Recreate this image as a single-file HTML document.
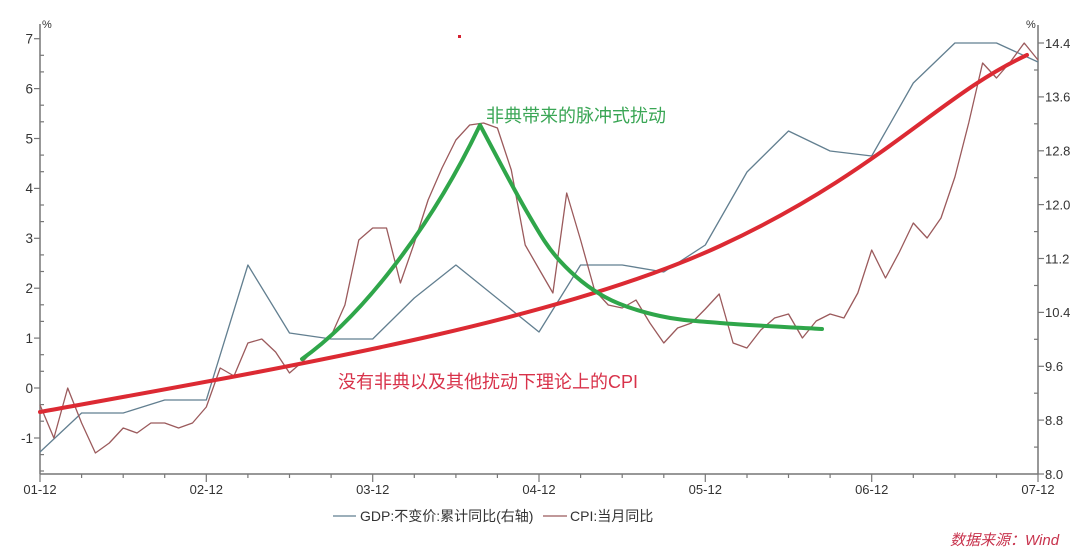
<!DOCTYPE html>
<html><head><meta charset="utf-8"><style>
html,body{margin:0;padding:0;background:#fff;}
svg{display:block;}
text{font-family:"Liberation Sans","Noto Sans CJK SC",sans-serif;}
</style></head><body>
<svg width="1080" height="551" viewBox="0 0 1080 551" xmlns="http://www.w3.org/2000/svg">
<rect width="1080" height="551" fill="#fff"/>
<!-- axes -->
<g stroke="#777" stroke-width="1.5" fill="none">
<line x1="40" y1="24" x2="40" y2="474"/>
<line x1="1038" y1="25" x2="1038" y2="474"/>
<line x1="40" y1="474" x2="1038" y2="474"/>
</g>
<g stroke="#777" stroke-width="1.2">
<line x1="34" y1="38.7" x2="40" y2="38.7"/><line x1="34" y1="88.6" x2="40" y2="88.6"/>
<line x1="34" y1="138.5" x2="40" y2="138.5"/><line x1="34" y1="188.4" x2="40" y2="188.4"/>
<line x1="34" y1="238.3" x2="40" y2="238.3"/><line x1="34" y1="288.2" x2="40" y2="288.2"/>
<line x1="34" y1="338.1" x2="40" y2="338.1"/><line x1="34" y1="388" x2="40" y2="388"/>
<line x1="34" y1="438" x2="40" y2="438"/>
<line x1="40" y1="55.3" x2="44" y2="55.3"/><line x1="40" y1="71.9" x2="44" y2="71.9"/>
<line x1="40" y1="105.2" x2="44" y2="105.2"/><line x1="40" y1="121.8" x2="44" y2="121.8"/>
<line x1="40" y1="155.1" x2="44" y2="155.1"/><line x1="40" y1="171.7" x2="44" y2="171.7"/>
<line x1="40" y1="205" x2="44" y2="205"/><line x1="40" y1="221.6" x2="44" y2="221.6"/>
<line x1="40" y1="254.9" x2="44" y2="254.9"/><line x1="40" y1="271.5" x2="44" y2="271.5"/>
<line x1="40" y1="304.8" x2="44" y2="304.8"/><line x1="40" y1="321.4" x2="44" y2="321.4"/>
<line x1="40" y1="354.7" x2="44" y2="354.7"/><line x1="40" y1="371.3" x2="44" y2="371.3"/>
<line x1="40" y1="404.6" x2="44" y2="404.6"/><line x1="40" y1="421.2" x2="44" y2="421.2"/>
<line x1="40" y1="454.6" x2="44" y2="454.6"/><line x1="40" y1="471" x2="44" y2="471"/>
<line x1="1038" y1="43" x2="1044" y2="43"/><line x1="1038" y1="96.9" x2="1044" y2="96.9"/>
<line x1="1038" y1="150.8" x2="1044" y2="150.8"/><line x1="1038" y1="204.6" x2="1044" y2="204.6"/>
<line x1="1038" y1="258.5" x2="1044" y2="258.5"/><line x1="1038" y1="312.4" x2="1044" y2="312.4"/>
<line x1="1038" y1="366.3" x2="1044" y2="366.3"/><line x1="1038" y1="420.1" x2="1044" y2="420.1"/>
<line x1="1038" y1="474" x2="1044" y2="474"/>
<line x1="1034" y1="70" x2="1038" y2="70"/><line x1="1034" y1="123.8" x2="1038" y2="123.8"/>
<line x1="1034" y1="177.7" x2="1038" y2="177.7"/><line x1="1034" y1="231.6" x2="1038" y2="231.6"/>
<line x1="1034" y1="285.5" x2="1038" y2="285.5"/><line x1="1034" y1="339.3" x2="1038" y2="339.3"/>
<line x1="1034" y1="393.2" x2="1038" y2="393.2"/><line x1="1034" y1="447.1" x2="1038" y2="447.1"/>
<line x1="40" y1="474" x2="40" y2="482"/><line x1="206.3" y1="474" x2="206.3" y2="482"/>
<line x1="372.7" y1="474" x2="372.7" y2="482"/><line x1="539" y1="474" x2="539" y2="482"/>
<line x1="705.3" y1="474" x2="705.3" y2="482"/><line x1="871.7" y1="474" x2="871.7" y2="482"/>
<line x1="1038" y1="474" x2="1038" y2="482"/>
<line x1="81.6" y1="474" x2="81.6" y2="478"/><line x1="123.2" y1="474" x2="123.2" y2="478"/><line x1="164.7" y1="474" x2="164.7" y2="478"/>
<line x1="247.9" y1="474" x2="247.9" y2="478"/><line x1="289.5" y1="474" x2="289.5" y2="478"/><line x1="331.1" y1="474" x2="331.1" y2="478"/>
<line x1="414.3" y1="474" x2="414.3" y2="478"/><line x1="455.9" y1="474" x2="455.9" y2="478"/><line x1="497.4" y1="474" x2="497.4" y2="478"/>
<line x1="580.6" y1="474" x2="580.6" y2="478"/><line x1="622.2" y1="474" x2="622.2" y2="478"/><line x1="663.8" y1="474" x2="663.8" y2="478"/>
<line x1="747" y1="474" x2="747" y2="478"/><line x1="788.5" y1="474" x2="788.5" y2="478"/><line x1="830.1" y1="474" x2="830.1" y2="478"/>
<line x1="913.3" y1="474" x2="913.3" y2="478"/><line x1="954.9" y1="474" x2="954.9" y2="478"/><line x1="996.5" y1="474" x2="996.5" y2="478"/>
</g>
<g font-size="13.5" fill="#333" text-anchor="end">
<text x="33" y="43.5">7</text><text x="33" y="93.4">6</text><text x="33" y="143.3">5</text>
<text x="33" y="193.2">4</text><text x="33" y="243.1">3</text><text x="33" y="293">2</text>
<text x="33" y="342.9">1</text><text x="33" y="392.8">0</text><text x="33" y="442.8">-1</text>
</g>
<g font-size="13" fill="#333">
<text x="1045" y="47.8">14.4</text><text x="1045" y="101.7">13.6</text><text x="1045" y="155.6">12.8</text>
<text x="1045" y="209.4">12.0</text><text x="1045" y="263.3">11.2</text><text x="1045" y="317.2">10.4</text>
<text x="1045" y="371.1">9.6</text><text x="1045" y="424.9">8.8</text><text x="1045" y="478.8">8.0</text>
</g>
<g font-size="13" fill="#333" text-anchor="middle">
<text x="40" y="494">01-12</text><text x="206.3" y="494">02-12</text><text x="372.7" y="494">03-12</text>
<text x="539" y="494">04-12</text><text x="705.3" y="494">05-12</text><text x="871.7" y="494">06-12</text>
<text x="1038" y="494">07-12</text>
</g>
<text x="42" y="28" font-size="11" fill="#333">%</text>
<text x="1026" y="28" font-size="11" fill="#333">%</text>
<polyline fill="none" stroke="#627f90" stroke-width="1.3" stroke-linejoin="round" points="40,452 81.6,413 123.2,413 164.7,400 206.3,400 247.9,265 289.5,333 331.1,339 372.7,339 414.3,298 455.9,265 539,332 580.6,265 622.2,265 663.8,272 705.3,245 747,172 788.5,131 830.1,151 871.7,156 913.3,83 954.9,43 996.5,43 1038,62"/>
<polyline fill="none" stroke="#9b5a5c" stroke-width="1.3" stroke-linejoin="round" points="40,405 53.9,438 67.7,388 81.6,423 95.4,453 109.3,443 123.2,428 137,433 150.9,423 164.7,423 178.6,428 192.5,423 206.3,407 220.2,368 234,376 247.9,343 261.8,339 275.6,352 289.5,373 303.3,361 317.2,346 331.1,336 344.9,305 358.8,240 372.7,228 386.5,228 400.4,283 414.3,243 428.1,200 442,168 455.9,140 469.7,125 483.6,123 497.4,128 511.3,170 525.2,245 539,269 552.9,293 566.7,193 580.6,240 594.5,290 608.3,305 622.2,308 636,300 649.9,323 663.8,343 677.6,328 691.5,323 705.3,309 719.2,294 733.1,343 746.9,348 760.8,330 774.6,318 788.5,314 802.4,338 816.2,321 830.1,314 843.9,318 857.8,293 871.7,250 885.5,278 899.4,252 913.3,223 927.1,238 941,218 954.9,177 968.7,123 982.6,63 996.5,78 1010.3,62 1024.2,43 1038,60"/>
<path d="M40,412 C300,365 560,320 720,246 S940,95 1027,55" fill="none" stroke="#dc2a33" stroke-width="4" stroke-linecap="round"/>
<path d="M302,359 C360,318 430,230 480,125 C487.8,139.5 513.7,189.3 527,212 C540.3,234.7 547,246.8 560,261 C573,275.2 588.3,287.8 605,297 C621.7,306.2 640.8,311.7 660,316 C679.2,320.3 693,320.8 720,323 C747,325.2 805,328 822,329" fill="none" stroke="#2fa64a" stroke-width="4" stroke-linecap="round" stroke-linejoin="round"/>
<text x="486" y="122" font-size="18" fill="#3aa655">非典带来的脉冲式扰动</text>
<text x="338" y="388" font-size="18" fill="#d8324a">没有非典以及其他扰动下理论上的CPI</text>
<rect x="458" y="35" width="3" height="3" fill="#d42030"/>
<line x1="333" y1="516" x2="356" y2="516" stroke="#627f90" stroke-width="1.3"/>
<text x="360" y="521" font-size="14" fill="#333">GDP:不变价:累计同比(右轴)</text>
<line x1="543" y1="516" x2="567" y2="516" stroke="#9b5a5c" stroke-width="1.3"/>
<text x="570" y="521" font-size="14" fill="#333">CPI:当月同比</text>
<text x="950" y="545" font-size="15" font-style="italic" fill="#c8334d">数据来源：Wind</text>
</svg>
</body></html>
